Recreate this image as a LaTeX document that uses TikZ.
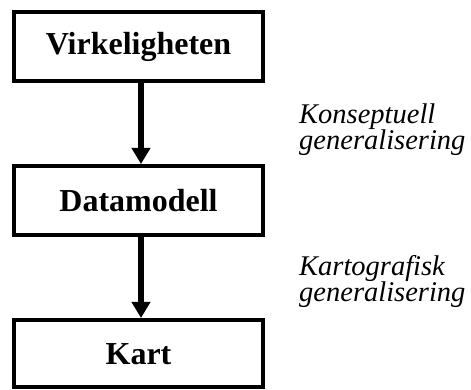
\documentclass[tikz,border=0pt]{standalone}
\usepackage{fontspec}
\setmainfont{Liberation Serif}
\usetikzlibrary{arrows.meta}
\begin{document}
\begin{tikzpicture}[x=1pt,y=1pt,
  box/.style={draw=black, line width=4pt, minimum width=249pt, minimum height=69pt,
    inner sep=0pt, font=\fontsize{32}{36}\selectfont\bfseries},
  flow/.style={line width=6pt, -{Triangle[length=16pt,width=18pt]}},
  lbl/.style={anchor=base west, align=left, inner sep=0pt,
    font=\fontsize{28.5}{25}\selectfont\itshape}]
\useasboundingbox (0,0) rectangle (471,390);
\node[box] (top) at (138.5,343.5) {Virkeligheten};
\node[box] (mid) at (138.5,189.5) {Datamodell};
\node[box, minimum height=67.5pt] (bot) at (138.5,36.25) {Kart};
\draw[flow] ([xshift=2.5pt]top.south) -- ([xshift=2.5pt]mid.north);
\draw[flow] ([xshift=2.5pt]mid.south) -- ([xshift=2.5pt]bot.north);
\node[lbl] (l1) at (299,240) {Konseptuell\\generalisering};
\node[lbl] (l2) at (299,88) {Kartografisk\\generalisering};
\end{tikzpicture}
\end{document}
